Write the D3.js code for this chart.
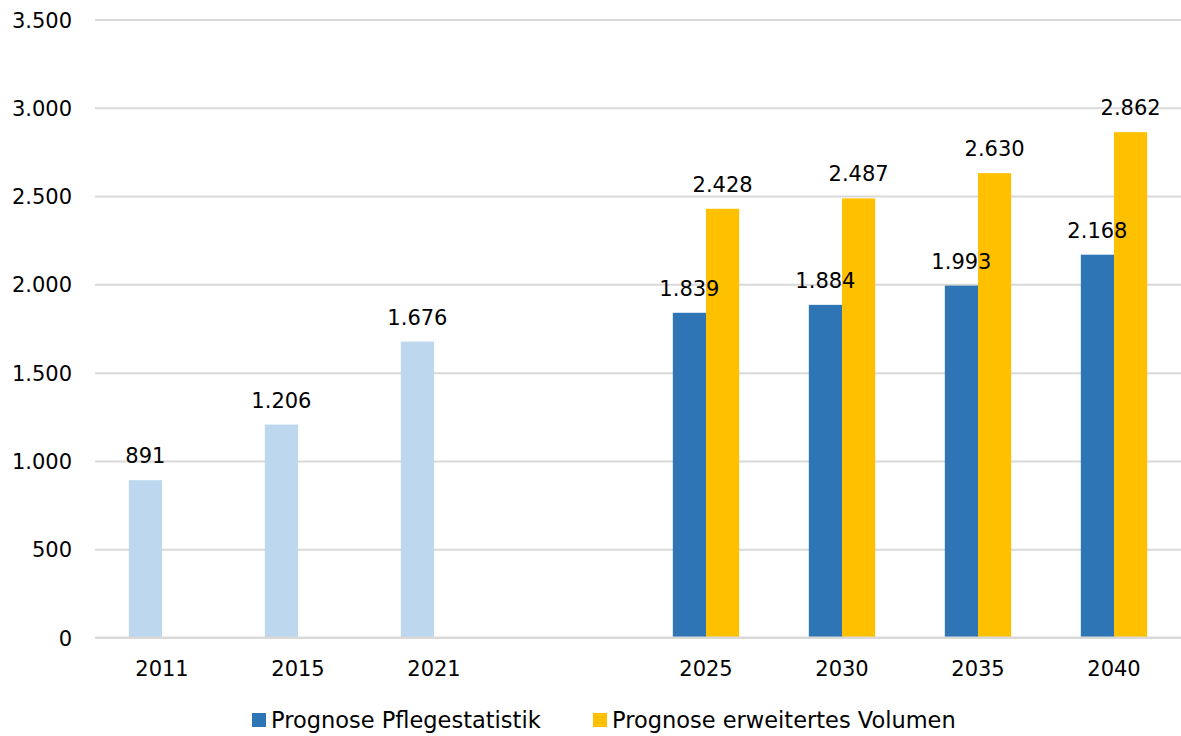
<!DOCTYPE html>
<html>
<head>
<meta charset="utf-8">
<script src="https://cdn.jsdelivr.net/npm/d3@7"></script>
<style>
	body { margin: 0; background: #fff; }
	svg text { font-family: "DejaVu Sans", sans-serif; fill: #000; }
	.grid line { stroke: #d9d9d9; stroke-width: 2; }
</style>
</head>
<body>
<svg id="chart" width="1181" height="736"></svg>
<script>
// categories on the x axis, the empty one is the gap between past and forecast
var years = ["2011", "2015", "2021", "", "2025", "2030", "2035", "2040"];
var pastYears = ["2011", "2015", "2021"];
var pastValues = [891, 1206, 1676];
var forecastYears = ["2025", "2030", "2035", "2040"];
var pflegeValues = [1839, 1884, 1993, 2168];
var volumenValues = [2428, 2487, 2630, 2862];
var yTicks = [0, 500, 1000, 1500, 2000, 2500, 3000, 3500];
var seriesNames = ["Prognose Pflegestatistik", "Prognose erweitertes Volumen"];

var colors = { past: "#bdd7ee", pflege: "#2e75b6", volumen: "#ffc000" };
var de = d3.formatLocale({ decimal: ",", thousands: ".", grouping: [3], currency: ["", " €"] });
var fmt = de.format(",d");

var chart = d3.select("#chart");
var plotLeft = 95, plotRight = 1181, plotTop = 19.5, plotBottom = 637.5;

var y = d3.scaleLinear().domain([0, 3500]).range([plotBottom, plotTop]);
// band range runs a pixel past the svg edge so the year centres line up
var x = d3.scaleBand().domain(years).range([94, 1182]).padding(0);
// two slots per year, each bar about a quarter of the band
var slot = d3.scaleBand().domain(["a", "b"]).range([0, x.bandwidth()]).paddingInner(0).paddingOuter(1.05);

// grid lines first so bars cover them
var grid = chart.append("g").attr("class", "grid").attr("transform", "translate(" + plotLeft + ",0)")
	.call(d3.axisLeft(y).tickValues(yTicks).tickSize(plotLeft - plotRight).tickFormat(""));
grid.select(".domain").remove();

var yaxis = chart.append("g").attr("transform", "translate(" + plotLeft + ",0)")
	.call(d3.axisLeft(y).tickValues(yTicks).tickSize(0).tickPadding(23).tickFormat(fmt));
yaxis.select(".domain").remove();
yaxis.selectAll("text").style("font-size", "21px").attr("dy", "0.36em");

function drawBars(cats, vals, key, color) {
	var data = cats.map(function(c, i) { return { year: c, value: vals[i] }; });
	var g = chart.append("g");
	g.selectAll("rect").data(data).enter().append("rect")
		.attr("x", function(d) { return x(d.year) + slot(key); })
		.attr("y", function(d) { return y(d.value); })
		.attr("width", slot.bandwidth())
		.attr("height", function(d) { return y(0) - y(d.value); })
		.attr("fill", color);
	return data;
}

var labelSets = [];
labelSets.push([drawBars(pastYears, pastValues, "a", colors.past), "a"]);
labelSets.push([drawBars(forecastYears, pflegeValues, "a", colors.pflege), "a"]);
labelSets.push([drawBars(forecastYears, volumenValues, "b", colors.volumen), "b"]);

// data labels drawn on top of all bars
labelSets.forEach(function(s) {
	chart.append("g").selectAll("text").data(s[0]).enter().append("text")
		.attr("x", function(d) { return x(d.year) + slot(s[1]) + slot.bandwidth() / 2; })
		.attr("y", function(d) { return y(d.value) - 17; })
		.attr("text-anchor", "middle")
		.style("font-size", "21px")
		.text(function(d) { return fmt(d.value); });
});

// x axis line and labels
var xaxis = chart.append("g").attr("transform", "translate(0," + plotBottom + ")")
	.call(d3.axisBottom(x).tickSize(0).tickPadding(24));
xaxis.select(".domain").attr("d", "M" + plotLeft + ",0H" + plotRight).attr("stroke", "#d9d9d9").attr("stroke-width", 2);
xaxis.selectAll("text").style("font-size", "21px");

// legend
var legend = chart.append("g");
var legendItems = [
	{ name: seriesNames[0], color: colors.pflege, x: 252 },
	{ name: seriesNames[1], color: colors.volumen, x: 593 }
];
var li = legend.selectAll("g").data(legendItems).enter().append("g")
	.attr("transform", function(d) { return "translate(" + d.x + ",713)"; });
li.append("rect").attr("width", 14).attr("height", 14).attr("fill", function(d) { return d.color; });
li.append("text").attr("x", 19).attr("y", 15).style("font-size", "22.5px").text(function(d) { return d.name; });
</script>
</body>
</html>
